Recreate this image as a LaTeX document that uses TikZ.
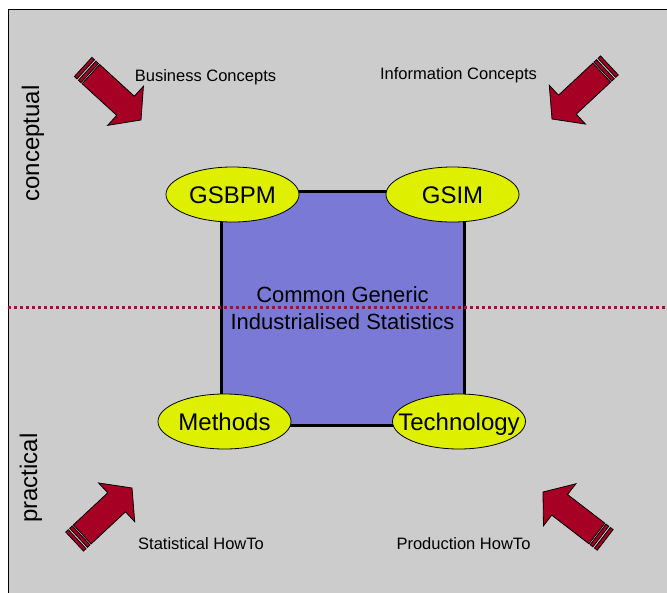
\documentclass[tikz,border=0pt]{standalone}
\usepackage{fontspec}
\setmainfont{Liberation Sans}
\usetikzlibrary{shapes.geometric}
\definecolor{bg}{RGB}{204,204,204}
\definecolor{boxblue}{RGB}{122,122,214}
\definecolor{ellyellow}{RGB}{222,240,0}
\definecolor{arrowred}{RGB}{166,0,36}
\definecolor{dotred}{RGB}{160,16,56}
\newcommand{\blockarrow}[3]{%
\begin{scope}[shift={(#1,#2)}, rotate=#3]
 \draw[barrow] (0,0) -- (-21,-26.5) -- (-21,-13) -- (-68,-13) -- (-68,13) -- (-21,13) -- (-21,26.5) -- cycle;
 \draw[barrow] (-69.5,-13) rectangle (-73,13);
 \draw[barrow] (-75,-13) rectangle (-78.5,13);
\end{scope}}
\begin{document}
\begin{tikzpicture}[x=1pt,y=-1pt,
  ell/.style={ellipse, draw=black, line width=0.8pt, fill=ellyellow, minimum width=133pt, minimum height=55pt, inner sep=0pt},
  elltext/.style={inner sep=0pt, text height=17.2pt, text depth=0pt, font=\fontsize{24}{28}\selectfont},
  lbl/.style={font=\fontsize{16.5}{20}\selectfont, inner sep=0pt, anchor=base},
  side/.style={font=\fontsize{24}{28}\selectfont, rotate=90, inner sep=0pt},
  barrow/.style={fill=arrowred, draw=black, line width=0.8pt},
  core/.style={draw=black, line width=3pt, fill=boxblue, minimum width=243pt, minimum height=234pt, align=center, font=\fontsize{22}{27.3}\selectfont}]
\useasboundingbox (0,0) rectangle (667,592);
\fill[white] (0,0) rectangle (667,592);
\draw[fill=bg, line width=1pt] (8,9) rectangle (668,593);

% core square
\node[core] (core) at (342.5,308) {Common Generic\\Industrialised Statistics};

% dotted divider
\coordinate (dl) at (8,307.5);
\coordinate (dr) at (667,307.5);
\draw[dotred, line width=3pt, dash pattern=on 3pt off 3pt] (dl) -- (dr);

% ellipses
\node[ell, label={[elltext]center:GSBPM}] (gsbpm) at (232.5,194.5) {};
\node[ell, label={[elltext]center:GSIM}] (gsim) at (452.5,194.5) {};
\node[ell, label={[elltext]center:Methods}] (methods) at (224.5,421.5) {};
\node[ell, label={[elltext]center:Technology}] (tech) at (459,421.5) {};

% arrows
\blockarrow{141}{120}{-42.5}
\blockarrow{552}{119}{-137}
\blockarrow{132}{488}{43}
\blockarrow{543}{492}{142.4}

% labels
\node[lbl] (bc) at (205.5,81) {Business Concepts};
\node[lbl] (ic) at (458.5,79.5) {Information Concepts};
\node[lbl] (sh) at (201,549) {Statistical HowTo};
\node[lbl] (ph) at (463.5,549) {Production HowTo};

\node[side] (conc) at (33,143.5) {conceptual};
\node[side] (prac) at (31,478) {practical};
\end{tikzpicture}
\end{document}
